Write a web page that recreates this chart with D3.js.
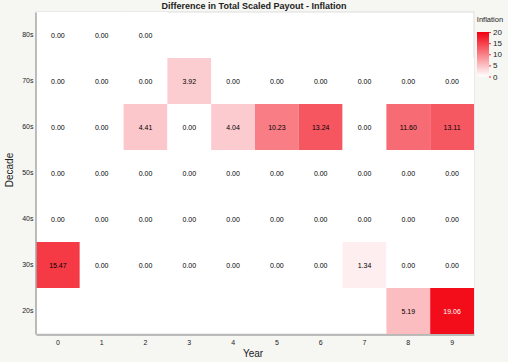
<!DOCTYPE html>
<html>
<head>
<meta charset="utf-8">
<script src="https://cdn.jsdelivr.net/npm/d3@7"></script>
<style>
  html, body { margin: 0; padding: 0; background: #f6f6f2; }
  svg { display: block; font-family: "Liberation Sans", Arial, sans-serif; }
</style>
</head>
<body>
<svg id="chart" width="508" height="362"></svg>
<script>
const years = ["0","1","2","3","4","5","6","7","8","9"];
const decades = ["80s","70s","60s","50s","40s","30s","20s"];
// values per decade (null = no cell)
const v80s = [0,0,0,null,null,null,null,null,null,null];
const v70s = [0,0,0,3.92,0,0,0,0,0,0];
const v60s = [0,0,4.41,0,4.04,10.23,13.24,0,11.60,13.11];
const v50s = [0,0,0,0,0,0,0,0,0,0];
const v40s = [0,0,0,0,0,0,0,0,0,0];
const v30s = [15.47,0,0,0,0,0,0,1.34,0,0];
const v20s = [null,null,null,null,null,null,null,null,5.19,19.06];
const legendTicks = [0,5,10,15,20];

const rows = {"80s":v80s,"70s":v70s,"60s":v60s,"50s":v50s,"40s":v40s,"30s":v30s,"20s":v20s};
const cells = [];
decades.forEach(d => rows[d].forEach((v,i) => { if (v !== null) cells.push({decade:d, year:years[i], value:v}); }));

const svg = d3.select("#chart");
const m = {left:36, right:474, top:12, bottom:334};

const x = d3.scaleBand().domain(years).range([m.left, m.right]).padding(0);
const y = d3.scaleBand().domain(decades).range([m.top, m.bottom]).padding(0);
const color = d3.scaleLinear().domain([0,20]).range(["#ffffff","#f2000f"]).interpolate(d3.interpolateRgb).clamp(true);

// plot background
svg.append("rect").attr("x", m.left).attr("y", m.top).attr("width", m.right-m.left).attr("height", m.bottom-m.top)
  .attr("fill", "#ffffff").attr("stroke", "#dddddd").attr("stroke-width", 1);

svg.append("g").selectAll("rect").data(cells).join("rect")
  .attr("x", d => x(d.year)).attr("y", d => y(d.decade))
  .attr("width", x.bandwidth()).attr("height", y.bandwidth())
  .attr("fill", d => color(d.value));

svg.append("g").selectAll("text").data(cells).join("text")
  .attr("x", d => x(d.year) + x.bandwidth()/2)
  .attr("y", d => y(d.decade) + y.bandwidth()/2)
  .attr("text-anchor", "middle").attr("dominant-baseline", "central")
  .attr("font-size", 7).attr("fill", d => d.value > 17 ? "#ffffff" : "#000000")
  .text(d => d.value.toFixed(2));

// axes
const xAxis = svg.append("g").attr("transform", `translate(0,${m.bottom+0.5})`)
  .call(d3.axisBottom(x).tickSize(0).tickPadding(6));
const yAxis = svg.append("g").attr("transform", `translate(${m.left-0.5},0)`)
  .call(d3.axisLeft(y).tickSize(0).tickPadding(2));
[xAxis, yAxis].forEach(a => {
  a.select(".domain").attr("stroke", "#a8a8a8").attr("stroke-width", 1.5);
  a.selectAll("text").attr("font-size", 7).attr("fill", "#222").attr("font-family", "Liberation Sans, Arial, sans-serif");
});

// titles
svg.append("text").attr("x", 254).attr("y", 9).attr("text-anchor", "middle")
  .attr("font-size", 9).attr("font-weight", "bold").attr("fill", "#222")
  .text("Difference in Total Scaled Payout - Inflation");
svg.append("text").attr("x", 253).attr("y", 357).attr("text-anchor", "middle")
  .attr("font-size", 10).attr("fill", "#222").text("Year");
svg.append("text").attr("transform", "translate(13,170) rotate(-90)").attr("text-anchor", "middle")
  .attr("font-size", 10).attr("fill", "#222").text("Decade");

// legend
const defs = svg.append("defs");
const grad = defs.append("linearGradient").attr("id", "lg").attr("x1", 0).attr("y1", 1).attr("x2", 0).attr("y2", 0);
d3.range(0, 21, 2).forEach(v => grad.append("stop").attr("offset", v/20).attr("stop-color", color(v)));
const ly = d3.scaleLinear().domain([0,20]).range([76.5, 32]);
svg.append("rect").attr("x", 477).attr("y", ly(20)).attr("width", 12).attr("height", ly(0)-ly(20)).attr("fill", "url(#lg)");
const lAxis = svg.append("g").attr("transform", "translate(489,0)")
  .call(d3.axisRight(ly).tickValues(legendTicks).tickSize(2).tickPadding(2));
lAxis.select(".domain").remove();
lAxis.selectAll("line").attr("stroke", "#f03040");
lAxis.selectAll("text").attr("font-size", 8).attr("fill", "#222").attr("font-family", "Liberation Sans, Arial, sans-serif");
svg.append("text").attr("x", 490).attr("y", 22).attr("text-anchor", "middle")
  .attr("font-size", 7.5).attr("fill", "#222").text("Inflation");
</script>
</body>
</html>
